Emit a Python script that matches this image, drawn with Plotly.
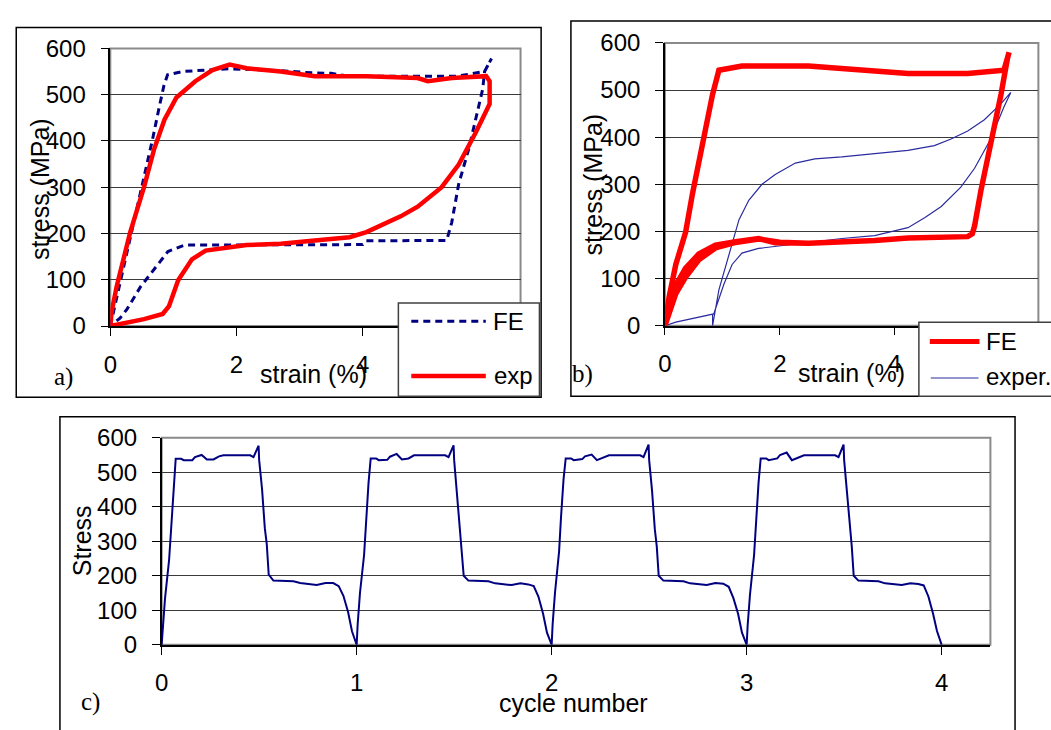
import plotly.graph_objects as go

W, H = 1051, 730

# ---------------- Panel a data ----------------
a_fe_strain = [0, 0.25, 0.50, 0.62, 0.67, 0.775, 0.85, 0.907, 1.14, 1.87, 2.70, 3.08, 3.50, 3.79, 4.50,
               5.50, 5.93, 6.04, 5.93, 5.90, 5.85, 5.68, 5.52, 5.41, 5.33, 4.05, 4.00, 3.10, 1.18,
               0.913, 0.642, 0.48, 0.262, 0.154, 0]
a_fe_stress = [0, 150, 300, 369, 404, 473, 520, 543, 550, 556, 552, 548, 546, 540, 540,
               540, 550, 578, 550, 512, 483, 383, 307, 224, 185, 184, 176, 176, 175,
               161, 112, 85, 36, 17, 0]

a_exp_strain = [0, 0.02, 0.10, 0.316, 0.534, 0.696, 0.858, 1.048, 1.347, 1.618, 1.89, 2.16, 2.70,
                3.24, 4.058, 4.87, 5.03, 5.41, 5.955, 6.01, 6.01,
                5.79, 5.52, 5.25, 4.87, 4.60, 4.058, 3.79, 3.24, 2.70, 2.16, 1.89, 1.51, 1.293,
                1.075, 0.93, 0.83, 0.534, 0.262, 0]
a_exp_stress = [0, 30, 85, 203, 300, 383, 446, 494, 529, 553, 565, 557, 550,
                540, 540, 536, 529, 536, 540, 529, 480,
                418, 349, 300, 258, 237, 203, 192, 185, 178, 175, 170, 163, 144,
                99, 43, 26, 15, 8, 0]

# ---------------- Panel b data ----------------
b_fe_strain = [0, 0.075, 0.19, 0.36, 0.48, 0.65, 0.83, 0.94, 1.34, 2.50, 3.65, 4.23, 5.27, 5.90, 5.99,
               5.96, 5.85, 5.67, 5.50, 5.39, 5.35, 5.27, 4.23, 3.65, 2.50, 1.92, 1.63, 1.23, 0.88,
               0.59, 0.36, 0.19, 0,
               0.19, 0.36, 0.59, 0.88, 1.20, 1.63, 2.00, 2.50]
b_fe_stress = [0, 62, 130, 198, 280, 389, 491, 542, 551, 551, 542, 535, 535, 542, 580,
               566, 491, 389, 287, 212, 195, 189, 186, 181, 175, 176, 185, 178, 171,
               152, 122, 86, 0,
               68, 103, 140, 165, 176, 184, 177, 175]

b_exp_strain = [0, 0.19, 0.83, 0.83, 0.94, 1.11, 1.29, 1.46, 1.69, 1.92, 2.27, 2.61, 3.08, 3.65,
                4.23, 4.69, 4.98, 5.27, 5.56, 5.85, 6.02,
                5.90, 5.67, 5.39, 5.15, 4.81, 4.52, 4.23, 3.65, 3.08, 2.50, 1.92, 1.63, 1.34,
                1.17, 1.03, 0.91, 0.85, 0.19, 0]
b_exp_stress = [0, 7.5, 24.5, 0, 76, 150, 225, 266, 300, 321, 345, 354, 358, 365,
                372, 382, 396, 413, 437, 471, 495,
                464, 396, 334, 294, 253, 229, 208, 191, 185, 176, 168, 164, 154,
                130, 89, 48, 25, 7.5, 0]

# ---------------- Panel c data ----------------
c_phase = [0.000, 0.005, 0.017, 0.038, 0.048, 0.061, 0.072, 0.100, 0.113, 0.157, 0.171, 0.205,
           0.232, 0.266, 0.294, 0.317, 0.454, 0.471, 0.497, 0.500, 0.515, 0.529, 0.539, 0.549,
           0.573, 0.676, 0.710, 0.795, 0.840, 0.880, 0.908, 0.932, 0.956, 0.976, 1.000]
c_cycle0 = [0, 40, 133, 245, 338, 432, 539, 539, 535, 535, 544, 550, 537, 537, 546, 549, 549, 544,
            577, 535, 450, 338, 292, 203, 186, 184, 179, 173, 179, 179, 170, 142, 95, 39, 0]
c_cycle1 = [0, 58, 150, 260, 360, 470, 540, 540, 535, 536, 545, 553, 537, 540, 549, 549, 549, 544,
            578, 535, 440, 330, 280, 200, 186, 184, 178, 173, 178, 175, 170, 140, 90, 35, 0]
c_cycle2 = [0, 60, 150, 270, 370, 480, 540, 540, 535, 538, 546, 551, 535, 542, 549, 549, 549, 544,
            580, 535, 445, 335, 285, 200, 186, 184, 178, 173, 179, 177, 168, 135, 90, 35, 0]
c_cycle3 = [0, 55, 145, 260, 360, 470, 540, 540, 535, 540, 550, 557, 535, 542, 549, 549, 549, 544,
            580, 535, 440, 330, 285, 200, 186, 184, 178, 173, 178, 176, 172, 140, 90, 40, 0]
c_cycles = [c_cycle0, c_cycle1, c_cycle2, c_cycle3]

stress_ticks = [0, 100, 200, 300, 400, 500, 600]
strain_ticks = [0, 2, 4, 6]
cycle_ticks = [0, 1, 2, 3, 4]

c_x, c_y = [], []
for k, cyc in enumerate(c_cycles):
    c_x += [k + p for p in c_phase]
    c_y += cyc

NAVY = "#000080"
RED = "#FF0000"
THINBLUE = "#2B2BA0"
FONT = "Liberation Sans"

def px(x):
    return x / W

def py(y):
    return 1 - y / H

fig = go.Figure()
fig.add_trace(go.Scatter(x=a_fe_strain, y=a_fe_stress, mode="lines", xaxis="x", yaxis="y", name="FE",
                         line=dict(color=NAVY, width=3, dash="7px,5px"), showlegend=False))
fig.add_trace(go.Scatter(x=a_exp_strain, y=a_exp_stress, mode="lines", xaxis="x", yaxis="y", name="exp",
                         line=dict(color=RED, width=4.5), showlegend=False))
fig.add_trace(go.Scatter(x=b_exp_strain, y=b_exp_stress, mode="lines", xaxis="x2", yaxis="y2", name="exper.",
                         line=dict(color=THINBLUE, width=1.2), showlegend=False))
fig.add_trace(go.Scatter(x=b_fe_strain, y=b_fe_stress, mode="lines", xaxis="x2", yaxis="y2", name="FE",
                         line=dict(color=RED, width=5.5), showlegend=False))
fig.add_trace(go.Scatter(x=c_x, y=c_y, mode="lines", xaxis="x3", yaxis="y3", name="Stress",
                         line=dict(color=NAVY, width=2), showlegend=False))

tickfont = dict(family=FONT, size=24, color="black")

def yax(domain, anchor):
    return dict(domain=domain, anchor=anchor, range=[0, 600], tickvals=stress_ticks,
                showgrid=True, gridcolor="#3a3a3a", gridwidth=1, zeroline=False,
                showline=True, linecolor="black", linewidth=1.5,
                ticks="outside", ticklen=8, tickcolor="black", tickwidth=1.2,
                tickfont=tickfont, ticklabelstandoff=10, fixedrange=True)

def xax(domain, anchor, rng, tv, standoff):
    return dict(domain=domain, anchor=anchor, range=rng, tickvals=tv,
                showgrid=False, zeroline=False, showline=True, linecolor="black", linewidth=1.5,
                ticks="outside", ticklen=8, tickcolor="black", tickwidth=1.2,
                tickfont=tickfont, ticklabelstandoff=standoff, fixedrange=True)

fig.update_layout(
    width=W, height=H, margin=dict(l=0, r=0, t=0, b=0),
    paper_bgcolor="white", plot_bgcolor="white",
    font=dict(family=FONT, color="black"),
    xaxis=xax([px(104), px(517)], "y", [0, 6.5], strain_ticks, 8),
    yaxis=yax([py(324), py(35.7)], "x"),
    xaxis2=xax([px(662.3), px(1038.3)], "y2", [0, 6.5], strain_ticks, 8),
    yaxis2=yax([py(323.7), py(30)], "x2"),
    xaxis3=xax([px(155.7), px(990)], "y3", [0, 4.25], cycle_ticks, 8),
    yaxis3=yax([py(655), py(440)], "x3"),
)

shapes = []
for xr, yr in [("x domain", "y domain"), ("x2 domain", "y2 domain"), ("x3 domain", "y3 domain")]:
    shapes.append(dict(type="rect", xref=xr, yref=yr, x0=0, x1=1, y0=0, y1=1,
                       line=dict(color="#8a8a8a", width=2), layer="below"))
for (x0, y0, x1, y1) in [(9.3, 14, 537.7, 398), (567.7, 7.3, 1062, 397), (53.3, 418.3, 1014.8, 745)]:
    shapes.append(dict(type="rect", xref="paper", yref="paper", x0=px(x0), x1=px(x1),
                       y0=py(y1), y1=py(y0), line=dict(color="black", width=1.5)))
for (x0, y0, x1, y1) in [(394, 300, 536, 397), (918, 320, 1062, 397)]:
    shapes.append(dict(type="rect", xref="paper", yref="paper", x0=px(x0), x1=px(x1),
                       y0=py(y1), y1=py(y0), line=dict(color="#404040", width=1.5),
                       fillcolor="white", layer="above"))
shapes.append(dict(type="line", xref="paper", yref="paper", x0=px(407), x1=px(482), y0=py(319), y1=py(319),
                   line=dict(color=NAVY, width=3, dash="7px,5px")))
shapes.append(dict(type="line", xref="paper", yref="paper", x0=px(407), x1=px(482), y0=py(376), y1=py(376),
                   line=dict(color=RED, width=4.5)))
shapes.append(dict(type="line", xref="paper", yref="paper", x0=px(929), x1=px(979), y0=py(340), y1=py(340),
                   line=dict(color=RED, width=5)))
shapes.append(dict(type="line", xref="paper", yref="paper", x0=px(930), x1=px(978), y0=py(378), y1=py(378),
                   line=dict(color=THINBLUE, width=1.2)))
fig.update_layout(shapes=shapes)

def ann(text, x, y, size=25, angle=0, xanchor="center", family=FONT):
    return dict(text=text, x=px(x), y=py(y), xref="paper", yref="paper", showarrow=False,
                xanchor=xanchor, yanchor="middle", textangle=angle,
                font=dict(family=family, size=size, color="black"))

annotations = [
    ann("stress (MPa)", 33, 182, angle=-90),
    ann("strain (%)", 309, 374),
    ann("a)", 57, 377, size=25, family="Liberation Serif"),
    ann("FE", 487, 319, size=24, xanchor="left"),
    ann("exp", 488, 375, size=24, xanchor="left"),
    ann("stress (MPa)", 590, 177, angle=-90),
    ann("strain (%)", 850, 373),
    ann("b)", 579, 374, size=25, family="Liberation Serif"),
    ann("FE", 984, 340, size=24, xanchor="left"),
    ann("exper.", 984, 376, size=24, xanchor="left"),
    ann("Stress", 75, 547, angle=-90),
    ann("cycle number", 570, 715),
    ann("c)", 84, 714, size=25, family="Liberation Serif"),
]
fig.update_layout(annotations=annotations)

fig.write_html("out.html",
               config={"displayModeBar": False},
               post_script="document.body.style.margin='0px';document.body.style.overflow='hidden';")
